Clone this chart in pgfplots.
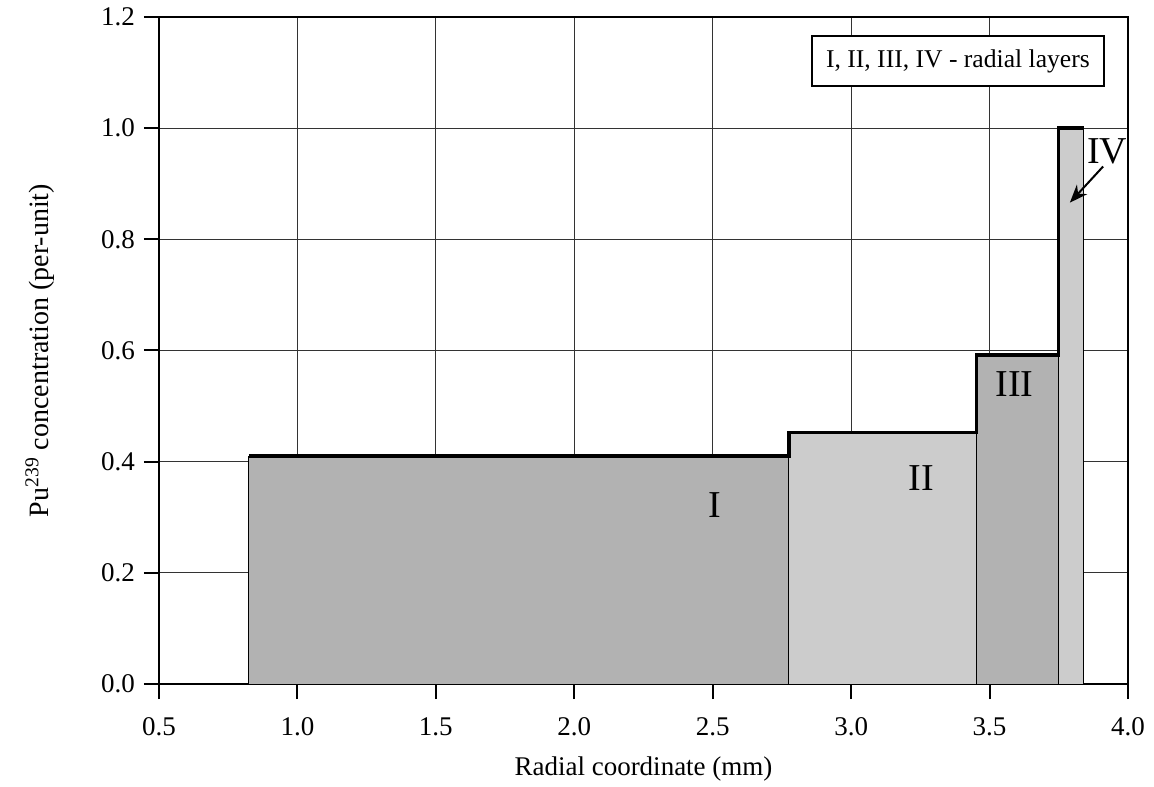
\documentclass[border=0pt]{standalone}
\usepackage{fontspec}
\setmainfont{Liberation Serif}
\usepackage{pgfplots}
\pgfplotsset{compat=1.18}
\usetikzlibrary{calc,arrows.meta}

\definecolor{layerdark}{gray}{0.70}
\definecolor{layerlight}{gray}{0.80}

\begin{document}
\fontsize{13pt}{15pt}\selectfont
\begin{tikzpicture}
\begin{axis}[
  name=ax,
  scale only axis,
  width=484.5pt,
  height=333.5pt,
  xmin=0.5, xmax=4.0,
  ymin=0, ymax=1.2,
  xtick distance=0.5,
  ytick distance=0.2,
  grid=major,
  major grid style={draw=black!80, line width=0.5pt},
  axis line style={line width=1pt},
  tick style={black, line width=1pt},
  tick align=outside,
  major tick length=7.5pt,
  xtick pos=lower, ytick pos=left,
  /pgf/number format/fixed,
  /pgf/number format/fixed zerofill,
  /pgf/number format/precision=1,
  /pgf/number format/assume math mode=true,
  tick label style={font=\fontsize{13.5pt}{16pt}\selectfont},
  xticklabel style={yshift=-4pt, text height=9.5pt, text depth=0pt},
  label style={font=\fontsize{13.5pt}{16pt}\selectfont},
  xlabel={Radial coordinate (mm)},
  ylabel={Pu\textsuperscript{239} concentration (per-unit)},
  xlabel style={at={(rel axis cs:0.5,-0.128)}, anchor=center},
  ylabel style={at={(rel axis cs:-0.1228,0.5)}, anchor=center, font=\fontsize{14pt}{16pt}\selectfont},
]
% layers as filled rectangles
\addplot[fill=layerdark, draw=black, line width=0.5pt] coordinates {(0.825,0) (0.825,0.41) (2.775,0.41) (2.775,0)} -- cycle;
\addplot[fill=layerlight, draw=black, line width=0.5pt] coordinates {(2.775,0) (2.775,0.453) (3.452,0.453) (3.452,0)} -- cycle;
\addplot[fill=layerdark, draw=black, line width=0.5pt] coordinates {(3.452,0) (3.452,0.592) (3.748,0.592) (3.748,0)} -- cycle;
\addplot[fill=layerlight, draw=black, line width=0.5pt] coordinates {(3.748,0) (3.748,1.0) (3.84,1.0) (3.84,0)} -- cycle;
% concentration profile
\addplot[black, line width=1.7pt, const plot, line join=miter] coordinates {
  (0.825,0.41) (2.775,0.453) (3.452,0.592) (3.748,1.0) (3.84,1.0)
};
\node[font=\fontsize{19pt}{22pt}\selectfont] at (axis cs:2.507,0.322) {I};
\node[font=\fontsize{19pt}{22pt}\selectfont] at (axis cs:3.254,0.371) {II};
\node[font=\fontsize{19pt}{22pt}\selectfont] at (axis cs:3.59,0.539) {III};
\node[font=\fontsize{19pt}{22pt}\selectfont] at (axis cs:3.925,0.958) {IV};
\draw[-{Stealth[length=9pt,width=7pt]}, line width=1pt] (axis cs:3.91,0.931) -- (axis cs:3.79,0.866);
\node[draw=black, line width=0.75pt, fill=white, minimum width=146pt, minimum height=25pt, inner sep=0pt, font=\fontsize{12.8pt}{15pt}\selectfont]
  at (rel axis cs:0.8245,0.934) {I, II, III, IV - radial layers};
\end{axis}
\pgfresetboundingbox
\path[use as bounding box] ($(ax.south west)+(-79.5pt,-51pt)$) rectangle ($(ax.north east)+(13pt,8.5pt)$);
\end{tikzpicture}
\end{document}
